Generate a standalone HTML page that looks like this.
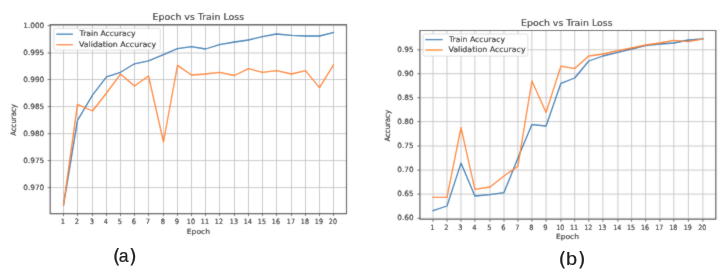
<!DOCTYPE html>
<html><head><meta charset="utf-8"><title>Epoch vs Train Loss</title>
<style>
html,body{margin:0;padding:0;background:#fff;}
body{width:728px;height:275px;overflow:hidden;}
svg{display:block;}
#w{width:728px;height:275px;}
</style></head>
<body>
<div id="w"><svg width="728" height="275" viewBox="0 0 728 275" font-family="'DejaVu Sans', 'Liberation Sans', sans-serif">
<style>.t text{stroke:#000;stroke-width:0.1px;}</style>
<defs><filter id="bl" x="0" y="0" width="1" height="1"><feConvolveMatrix order="3" kernelMatrix="1 2 1 2 20 2 1 2 1" divisor="32" edgeMode="duplicate"/></filter></defs>
<rect width="728" height="275" fill="#ffffff"/>
<g filter="url(#bl)" class="t">
<rect width="728" height="275" fill="#ffffff"/>
<path d="M63.5 24.6V213.6M77.5 24.6V213.6M92.5 24.6V213.6M106.5 24.6V213.6M120.5 24.6V213.6M134.5 24.6V213.6M148.5 24.6V213.6M163.5 24.6V213.6M177.5 24.6V213.6M191.5 24.6V213.6M205.5 24.6V213.6M219.5 24.6V213.6M234.5 24.6V213.6M248.5 24.6V213.6M262.5 24.6V213.6M276.5 24.6V213.6M291.5 24.6V213.6M305.5 24.6V213.6M319.5 24.6V213.6M333.5 24.6V213.6M50.2 187.6H346.5M50.2 160.6H346.5M50.2 133.7H346.5M50.2 106.6H346.5M50.2 79.5H346.5M50.2 53H346.5M50.2 25.6H346.5" stroke="#c6c6c6" stroke-width="0.95" fill="none"/>
<polyline points="63.5,205.2 77.5,120.4 92.5,95.2 106.5,76.8 120.5,72.3 134.5,63.8 148.5,60.8 163.5,54.6 177.5,48.6 191.5,46.6 205.5,49 219.5,44.6 234.5,42 248.5,40 262.5,36.6 276.5,34 291.5,35.4 305.5,36 319.5,36 333.5,32.6" stroke="#1f77b4" stroke-width="1.3" fill="none" stroke-linejoin="round" stroke-linecap="square"/>
<polyline points="63.5,205.2 77.5,104.4 92.5,111 106.5,93 120.5,74.1 134.5,86 148.5,76 163.5,142 177.5,65.4 191.5,75 205.5,74 219.5,72.4 234.5,75.5 248.5,68.6 262.5,72.4 276.5,70.6 291.5,74 305.5,70.6 319.5,87.6 333.5,65" stroke="#ff7f0e" stroke-width="1.3" fill="none" stroke-linejoin="round" stroke-linecap="square"/>
<path d="M50.2 24.6H346.5V213.6H50.2Z" fill="none" stroke="#4a4a4a" stroke-width="1.15" stroke-linejoin="miter"/>
<path d="M63.5 213.6v2.6M77.5 213.6v2.6M92.5 213.6v2.6M106.5 213.6v2.6M120.5 213.6v2.6M134.5 213.6v2.6M148.5 213.6v2.6M163.5 213.6v2.6M177.5 213.6v2.6M191.5 213.6v2.6M205.5 213.6v2.6M219.5 213.6v2.6M234.5 213.6v2.6M248.5 213.6v2.6M262.5 213.6v2.6M276.5 213.6v2.6M291.5 213.6v2.6M305.5 213.6v2.6M319.5 213.6v2.6M333.5 213.6v2.6M50.2 187.6h-2.6M50.2 160.6h-2.6M50.2 133.7h-2.6M50.2 106.6h-2.6M50.2 79.5h-2.6M50.2 53h-2.6M50.2 25.6h-2.6" stroke="#4a4a4a" stroke-width="0.8" fill="none"/>
<g font-size="7.3" fill="#000000"><text x="62.9" y="224" text-anchor="middle" textLength="4.3" lengthAdjust="spacingAndGlyphs">1</text><text x="76.9" y="224" text-anchor="middle" textLength="4.3" lengthAdjust="spacingAndGlyphs">2</text><text x="91.9" y="224" text-anchor="middle" textLength="4.3" lengthAdjust="spacingAndGlyphs">3</text><text x="105.9" y="224" text-anchor="middle" textLength="4.3" lengthAdjust="spacingAndGlyphs">4</text><text x="119.9" y="224" text-anchor="middle" textLength="4.3" lengthAdjust="spacingAndGlyphs">5</text><text x="133.9" y="224" text-anchor="middle" textLength="4.3" lengthAdjust="spacingAndGlyphs">6</text><text x="147.9" y="224" text-anchor="middle" textLength="4.3" lengthAdjust="spacingAndGlyphs">7</text><text x="162.9" y="224" text-anchor="middle" textLength="4.3" lengthAdjust="spacingAndGlyphs">8</text><text x="176.9" y="224" text-anchor="middle" textLength="4.3" lengthAdjust="spacingAndGlyphs">9</text><text x="190.9" y="224" text-anchor="middle" textLength="8.1" lengthAdjust="spacingAndGlyphs">10</text><text x="204.9" y="224" text-anchor="middle" textLength="8.1" lengthAdjust="spacingAndGlyphs">11</text><text x="218.9" y="224" text-anchor="middle" textLength="8.1" lengthAdjust="spacingAndGlyphs">12</text><text x="233.9" y="224" text-anchor="middle" textLength="8.1" lengthAdjust="spacingAndGlyphs">13</text><text x="247.9" y="224" text-anchor="middle" textLength="8.1" lengthAdjust="spacingAndGlyphs">14</text><text x="261.9" y="224" text-anchor="middle" textLength="8.1" lengthAdjust="spacingAndGlyphs">15</text><text x="275.9" y="224" text-anchor="middle" textLength="8.1" lengthAdjust="spacingAndGlyphs">16</text><text x="290.9" y="224" text-anchor="middle" textLength="8.1" lengthAdjust="spacingAndGlyphs">17</text><text x="304.9" y="224" text-anchor="middle" textLength="8.1" lengthAdjust="spacingAndGlyphs">18</text><text x="318.9" y="224" text-anchor="middle" textLength="8.1" lengthAdjust="spacingAndGlyphs">19</text><text x="332.9" y="224" text-anchor="middle" textLength="8.1" lengthAdjust="spacingAndGlyphs">20</text><text x="44.2" y="189.6" text-anchor="end">0.970</text><text x="44.2" y="162.6" text-anchor="end">0.975</text><text x="44.2" y="135.7" text-anchor="end">0.980</text><text x="44.2" y="108.6" text-anchor="end">0.985</text><text x="44.2" y="81.5" text-anchor="end">0.990</text><text x="44.2" y="55" text-anchor="end">0.995</text><text x="44.2" y="27.6" text-anchor="end">1.000</text></g>
<text x="198.4" y="233.6" text-anchor="middle" font-size="7.2" fill="#000000" textLength="23.2" lengthAdjust="spacingAndGlyphs">Epoch</text>
<text transform="translate(15.6,120) rotate(-90)" text-anchor="middle" font-size="7.6" fill="#000000" textLength="31.6" lengthAdjust="spacingAndGlyphs">Accuracy</text>
<text x="198.3" y="20.1" text-anchor="middle" font-size="8.4" fill="#000000" textLength="91.5" lengthAdjust="spacingAndGlyphs">Epoch vs Train Loss</text>
<rect x="53.9" y="28.4" width="106.4" height="21.7" rx="1.5" fill="#ffffff" fill-opacity="0.95" stroke="#d8d8d8" stroke-width="0.8"/>
<path d="M56.3 34.2H72.9" stroke="#1f77b4" stroke-width="1.3"/>
<path d="M56.3 44.7H72.9" stroke="#ff7f0e" stroke-width="1.3"/>
<g font-size="7.7" fill="#000000"><text x="79.6" y="36.3" textLength="56.0" lengthAdjust="spacingAndGlyphs">Train Accuracy</text><text x="79" y="46.6" textLength="77.2" lengthAdjust="spacingAndGlyphs">Validation Accuracy</text></g>
<path d="M433 30.5V219.2M447 30.5V219.2M461 30.5V219.2M474.9 30.5V219.2M490 30.5V219.2M504 30.5V219.2M517.9 30.5V219.2M531.9 30.5V219.2M546.1 30.5V219.2M560.9 30.5V219.2M574.7 30.5V219.2M588.8 30.5V219.2M602.9 30.5V219.2M617.9 30.5V219.2M631.6 30.5V219.2M645.6 30.5V219.2M659.9 30.5V219.2M673.8 30.5V219.2M688.4 30.5V219.2M702.9 30.5V219.2M419.9 218.3H715.8M419.9 194.1H715.8M419.9 170.1H715.8M419.9 146H715.8M419.9 121.6H715.8M419.9 97.7H715.8M419.9 73.7H715.8M419.9 49.8H715.8" stroke="#c6c6c6" stroke-width="0.95" fill="none"/>
<polyline points="433,210.6 447,206 461,163.1 474.9,196 490,194.6 504,192.6 517.9,158 531.9,124.6 546.1,126 560.9,83.3 574.7,78 588.8,61 602.9,56 617.9,52.4 631.6,49 645.6,45.6 659.9,44 673.8,43 688.4,40 702.9,39" stroke="#1f77b4" stroke-width="1.3" fill="none" stroke-linejoin="round" stroke-linecap="square"/>
<polyline points="433,197.4 447,197.4 461,127.6 474.9,189.4 490,187 504,176 517.9,166.2 531.9,81 546.1,112.4 560.9,66.2 574.7,68.6 588.8,56 602.9,54 617.9,50.6 631.6,48 645.6,45 659.9,43 673.8,40.4 688.4,41.6 702.9,39" stroke="#ff7f0e" stroke-width="1.3" fill="none" stroke-linejoin="round" stroke-linecap="square"/>
<path d="M419.9 30.5H715.8V219.2H419.9Z" fill="none" stroke="#4a4a4a" stroke-width="1.15" stroke-linejoin="miter"/>
<path d="M433 219.2v2.6M447 219.2v2.6M461 219.2v2.6M474.9 219.2v2.6M490 219.2v2.6M504 219.2v2.6M517.9 219.2v2.6M531.9 219.2v2.6M546.1 219.2v2.6M560.9 219.2v2.6M574.7 219.2v2.6M588.8 219.2v2.6M602.9 219.2v2.6M617.9 219.2v2.6M631.6 219.2v2.6M645.6 219.2v2.6M659.9 219.2v2.6M673.8 219.2v2.6M688.4 219.2v2.6M702.9 219.2v2.6M419.9 218.3h-2.6M419.9 194.1h-2.6M419.9 170.1h-2.6M419.9 146h-2.6M419.9 121.6h-2.6M419.9 97.7h-2.6M419.9 73.7h-2.6M419.9 49.8h-2.6" stroke="#4a4a4a" stroke-width="0.8" fill="none"/>
<g font-size="7.3" fill="#000000"><text x="432.4" y="229.7" text-anchor="middle" textLength="4.3" lengthAdjust="spacingAndGlyphs">1</text><text x="446.4" y="229.7" text-anchor="middle" textLength="4.3" lengthAdjust="spacingAndGlyphs">2</text><text x="460.4" y="229.7" text-anchor="middle" textLength="4.3" lengthAdjust="spacingAndGlyphs">3</text><text x="474.3" y="229.7" text-anchor="middle" textLength="4.3" lengthAdjust="spacingAndGlyphs">4</text><text x="489.4" y="229.7" text-anchor="middle" textLength="4.3" lengthAdjust="spacingAndGlyphs">5</text><text x="503.4" y="229.7" text-anchor="middle" textLength="4.3" lengthAdjust="spacingAndGlyphs">6</text><text x="517.3" y="229.7" text-anchor="middle" textLength="4.3" lengthAdjust="spacingAndGlyphs">7</text><text x="531.3" y="229.7" text-anchor="middle" textLength="4.3" lengthAdjust="spacingAndGlyphs">8</text><text x="545.5" y="229.7" text-anchor="middle" textLength="4.3" lengthAdjust="spacingAndGlyphs">9</text><text x="560.3" y="229.7" text-anchor="middle" textLength="8.1" lengthAdjust="spacingAndGlyphs">10</text><text x="574.1" y="229.7" text-anchor="middle" textLength="8.1" lengthAdjust="spacingAndGlyphs">11</text><text x="588.2" y="229.7" text-anchor="middle" textLength="8.1" lengthAdjust="spacingAndGlyphs">12</text><text x="602.3" y="229.7" text-anchor="middle" textLength="8.1" lengthAdjust="spacingAndGlyphs">13</text><text x="617.3" y="229.7" text-anchor="middle" textLength="8.1" lengthAdjust="spacingAndGlyphs">14</text><text x="631" y="229.7" text-anchor="middle" textLength="8.1" lengthAdjust="spacingAndGlyphs">15</text><text x="645" y="229.7" text-anchor="middle" textLength="8.1" lengthAdjust="spacingAndGlyphs">16</text><text x="659.3" y="229.7" text-anchor="middle" textLength="8.1" lengthAdjust="spacingAndGlyphs">17</text><text x="673.2" y="229.7" text-anchor="middle" textLength="8.1" lengthAdjust="spacingAndGlyphs">18</text><text x="687.8" y="229.7" text-anchor="middle" textLength="8.1" lengthAdjust="spacingAndGlyphs">19</text><text x="702.3" y="229.7" text-anchor="middle" textLength="8.1" lengthAdjust="spacingAndGlyphs">20</text><text x="413.6" y="220.3" text-anchor="end">0.60</text><text x="413.6" y="196.1" text-anchor="end">0.65</text><text x="413.6" y="172.1" text-anchor="end">0.70</text><text x="413.6" y="148" text-anchor="end">0.75</text><text x="413.6" y="123.6" text-anchor="end">0.80</text><text x="413.6" y="99.7" text-anchor="end">0.85</text><text x="413.6" y="75.7" text-anchor="end">0.90</text><text x="413.6" y="51.8" text-anchor="end">0.95</text></g>
<text x="567.5" y="239.1" text-anchor="middle" font-size="7.2" fill="#000000" textLength="23.2" lengthAdjust="spacingAndGlyphs">Epoch</text>
<text transform="translate(390.2,125.8) rotate(-90)" text-anchor="middle" font-size="7.6" fill="#000000" textLength="31.6" lengthAdjust="spacingAndGlyphs">Accuracy</text>
<text x="566.8" y="26" text-anchor="middle" font-size="8.4" fill="#000000" textLength="91.5" lengthAdjust="spacingAndGlyphs">Epoch vs Train Loss</text>
<rect x="423.2" y="34" width="104.6" height="22.1" rx="1.5" fill="#ffffff" fill-opacity="0.95" stroke="#d8d8d8" stroke-width="0.8"/>
<path d="M425.3 39.6H442.7" stroke="#1f77b4" stroke-width="1.3"/>
<path d="M425.3 50H442.7" stroke="#ff7f0e" stroke-width="1.3"/>
<g font-size="7.7" fill="#000000"><text x="449" y="41.7" textLength="56.0" lengthAdjust="spacingAndGlyphs">Train Accuracy</text><text x="448.4" y="52" textLength="77.2" lengthAdjust="spacingAndGlyphs">Validation Accuracy</text></g>
</g>
<g font-family="'Liberation Sans', 'DejaVu Sans', sans-serif" font-size="19" fill="#202020" stroke="#202020" stroke-width="0.2">
<text><tspan x="112.7" y="263.0" font-size="20" font-family="'DejaVu Sans', sans-serif">(</tspan><tspan x="118.7" y="261.6" font-size="17.6">a</tspan><tspan x="128.9" y="263.0" font-size="20" font-family="'DejaVu Sans', sans-serif">)</tspan></text>
<text><tspan x="558.6" y="266.0" font-size="20.2" font-family="'DejaVu Sans', sans-serif">(</tspan><tspan x="577.8" y="266.0" font-size="20.2" font-family="'DejaVu Sans', sans-serif">)</tspan></text>
<text x="566.0" y="264.7" font-size="18" textLength="11.1" lengthAdjust="spacingAndGlyphs">b</text>
</g>
</svg></div>
</body></html>
